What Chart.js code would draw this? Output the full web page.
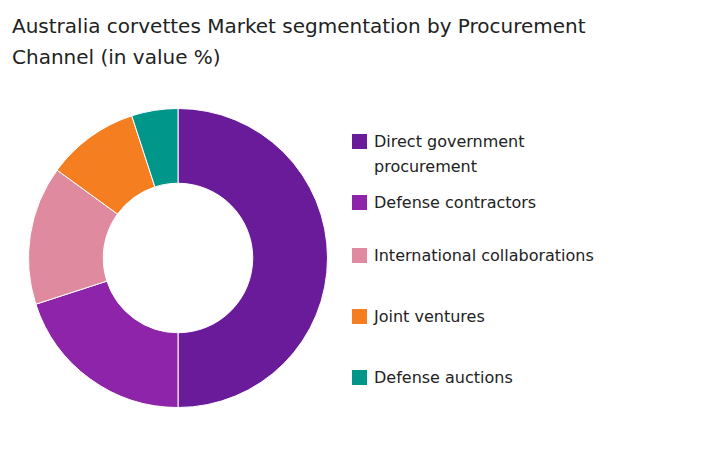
<!DOCTYPE html>
<html>
<head>
<meta charset="utf-8">
<script src="https://cdn.jsdelivr.net/npm/chart.js@4"></script>
<style>
body { margin:0; width:707px; height:466px; background:#fff; font-family:"DejaVu Sans", "Noto Sans", sans-serif; position:relative; overflow:hidden; }
#title { position:absolute; left:12px; top:11px; font-size:20px; line-height:31px; color:#222; }
#wrap { position:absolute; left:28px; top:108px; width:300px; height:300px; }
#legend { position:absolute; left:352px; top:0; }
.item { position:absolute; left:0; width:340px; font-size:16px; line-height:25px; color:#222; padding-left:22px; }
.sw { position:absolute; left:0; top:5px; width:15px; height:15px; }
</style>
</head>
<body>
<div id="title">Australia corvettes Market segmentation by Procurement<br>Channel (in value %)</div>
<div id="wrap"><canvas id="chart"></canvas></div>
<div id="legend"></div>
<script>
var labels = ["Direct government procurement", "Defense contractors", "International collaborations", "Joint ventures", "Defense auctions"];
var values = [50, 20, 15, 10, 5];
var colors = ['#6a1b9a', '#8e24aa', '#e08aa0', '#f57f20', '#00968a'];
var legendTops = [129, 190, 243, 304, 365];

var ctx = document.getElementById('chart').getContext('2d');
var chart = new Chart(ctx, {
    type: 'doughnut',
    data: {
        labels: labels,
        datasets: [{
            data: values,
            backgroundColor: colors,
            borderColor: '#fff',
            borderWidth: 1
        }]
    },
    options: {
        animation: false,
        responsive: true,
        maintainAspectRatio: false,
        cutout: '50%',
        plugins: { legend: { display: false }, tooltip: { enabled: false } }
    }
});

var legend = document.getElementById('legend');
labels.forEach(function (l, i) {
    var d = document.createElement('div');
    d.className = 'item';
    d.style.top = legendTops[i] + 'px';
    d.innerHTML = '<span class="sw" style="background:' + colors[i] + '"></span>' +
        (i === 0 ? 'Direct government<br>procurement' : l);
    legend.appendChild(d);
});
</script>
</body>
</html>
